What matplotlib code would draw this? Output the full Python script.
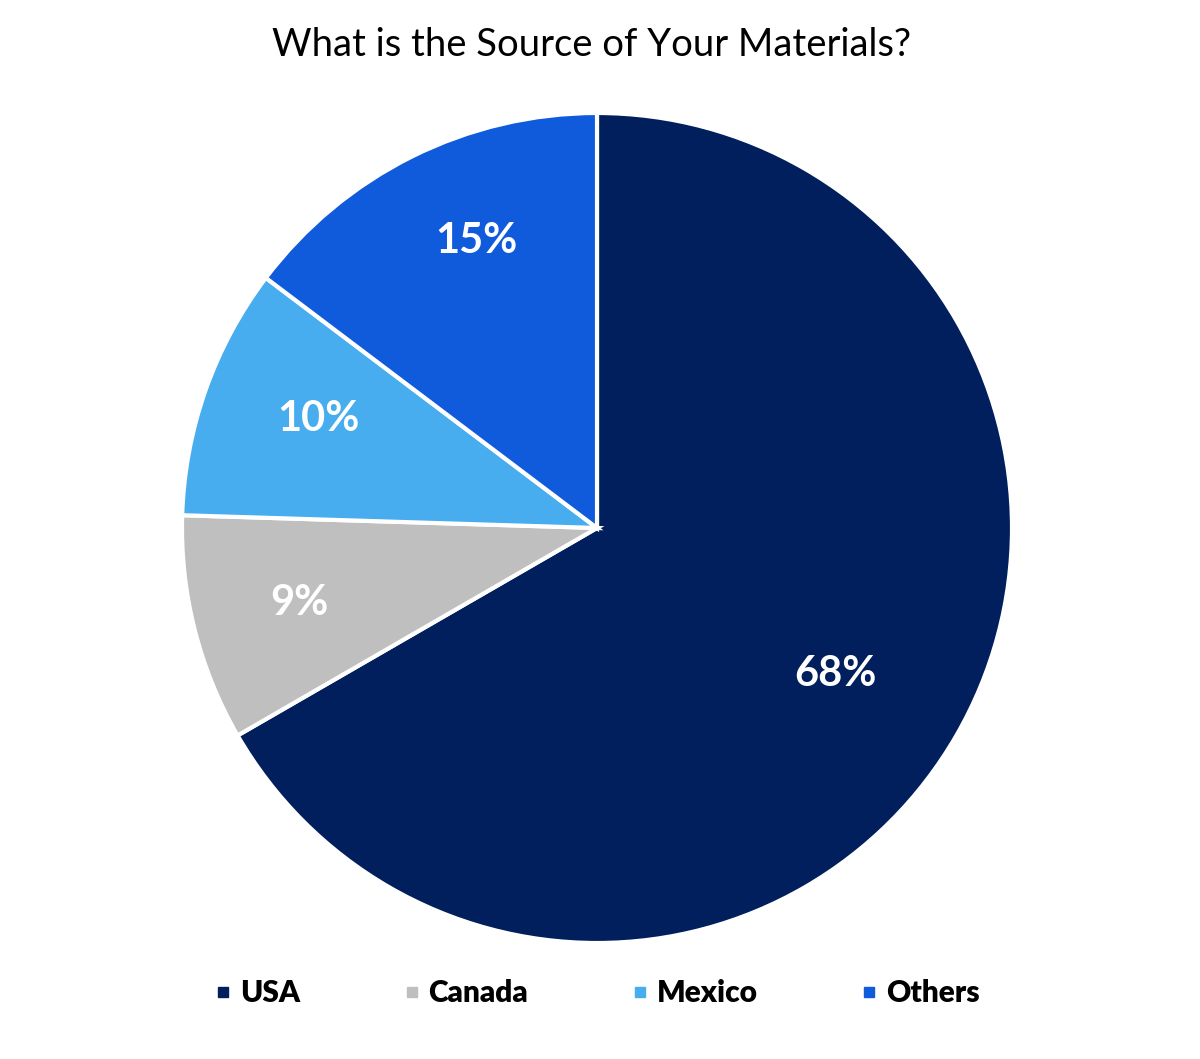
import matplotlib
matplotlib.use("Agg")
import numpy as np
import matplotlib.pyplot as plt
from matplotlib.lines import Line2D

plt.rcParams['font.family'] = ['Lato', 'DejaVu Sans']

# data
categories = ["USA", "Canada", "Mexico", "Others"]
values = [68, 9, 10, 15]
colors = ["#001F5C", "#BFBFBF", "#47ADEF", "#0F5BDB"]

# label placement (radius fraction, angle shift in degrees)
label_dist = [0.675, 0.74, 0.72, 0.75]
label_shift = [-1.5, 0, -2, -3.6]

fig = plt.figure(figsize=(12, 10.59), dpi=100)

# pie axes: square region in pixels (830 x 830)
ax = fig.add_axes([182 / 1200, 116 / 1059, 830 / 1200, 830 / 1059])
wedges, texts, autotexts = ax.pie(
    values, colors=colors, startangle=90, counterclock=False,
    autopct=lambda p: "%d%%" % round(p * sum(values) / 100),
    wedgeprops=dict(edgecolor="white", linewidth=3),
    textprops=dict(color="white", fontsize=30, fontweight="bold"),
)
for w, t, d, s in zip(wedges, autotexts, label_dist, label_shift):
    ang = np.deg2rad((w.theta1 + w.theta2) / 2 + s)
    t.set_position((d * np.cos(ang), d * np.sin(ang)))
ax.set_xlim(-1, 1)
ax.set_ylim(-1, 1)
ax.axis("off")

fig.text(0.493, 1 - 45 / 1059, "What is the Source of Your Materials?",
         ha="center", va="center", fontsize=27.5, color="black")

handles = [Line2D([0], [0], marker="s", linestyle="none", markersize=7,
                  markerfacecolor=c, markeredgecolor=c) for c in colors]
fig.legend(handles, categories, loc="center", bbox_to_anchor=(0.4975, 1 - 993 / 1059),
           ncol=4, frameon=False, handlelength=0.6, handletextpad=0.25,
           columnspacing=3.45, prop=dict(size=21.5, weight="heavy"))

fig.savefig("out.png", dpi=100, facecolor="white")
